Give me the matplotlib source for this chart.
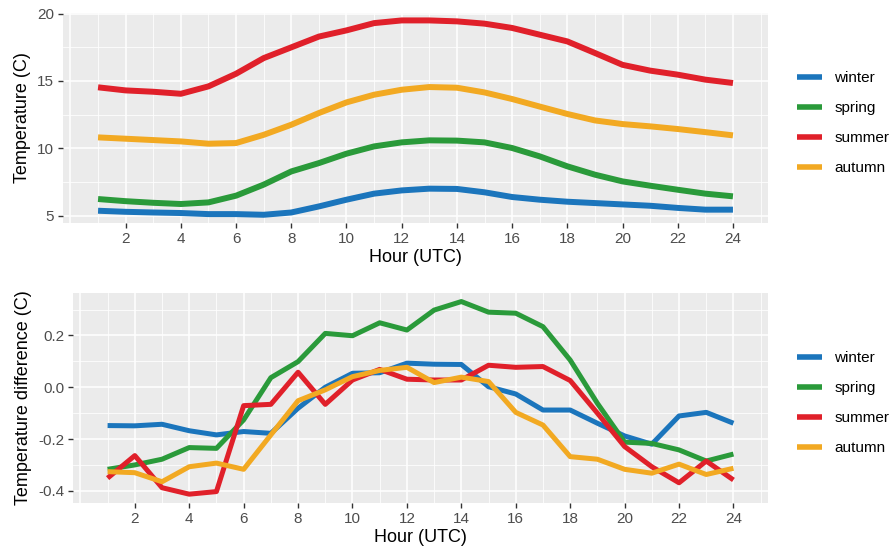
import matplotlib
matplotlib.use("Agg")
import matplotlib.pyplot as plt

plt.rcParams["font.family"] = ["Liberation Sans", "DejaVu Sans"]

hours = list(range(1, 25))
seasons = ["winter", "spring", "summer", "autumn"]
colors = ["#1b75bc", "#2a9a3a", "#e0202a", "#f2a922"]

# mean temperature per hour (C)
temp_winter = [5.36, 5.28, 5.23, 5.19, 5.11, 5.11, 5.06, 5.23, 5.68, 6.18, 6.63, 6.87,
               7.0, 6.98, 6.73, 6.38, 6.18, 6.03, 5.93, 5.83, 5.73, 5.57, 5.44, 5.44]
temp_spring = [6.23, 6.07, 5.95, 5.86, 5.98, 6.48, 7.3, 8.28, 8.9, 9.6, 10.14, 10.44,
               10.59, 10.57, 10.44, 10.02, 9.4, 8.66, 8.04, 7.54, 7.22, 6.92, 6.63, 6.43]
temp_summer = [14.53, 14.3, 14.2, 14.05, 14.6, 15.54, 16.7, 17.5, 18.3, 18.76, 19.3, 19.5,
               19.5, 19.43, 19.26, 18.94, 18.44, 17.94, 17.08, 16.2, 15.77, 15.47, 15.1, 14.85]
temp_autumn = [10.81, 10.71, 10.61, 10.51, 10.34, 10.39, 11.0, 11.75, 12.62, 13.41, 13.98, 14.35,
               14.55, 14.5, 14.15, 13.66, 13.1, 12.55, 12.07, 11.8, 11.63, 11.43, 11.2, 10.96]

# temperature difference per hour (C)
diff_winter = [-0.148, -0.149, -0.143, -0.168, -0.184, -0.171, -0.178, -0.081, 0.0, 0.054, 0.056, 0.093,
               0.089, 0.088, 0.002, -0.026, -0.088, -0.088, -0.139, -0.188, -0.22, -0.111, -0.097, -0.139]
diff_spring = [-0.317, -0.3, -0.278, -0.233, -0.236, -0.126, 0.037, 0.099, 0.208, 0.199, 0.249, 0.221,
               0.298, 0.331, 0.29, 0.286, 0.234, 0.105, -0.062, -0.212, -0.217, -0.242, -0.285, -0.258]
diff_summer = [-0.351, -0.264, -0.388, -0.413, -0.403, -0.071, -0.066, 0.058, -0.066, 0.028, 0.069, 0.031,
               0.028, 0.028, 0.085, 0.077, 0.08, 0.026, -0.1, -0.229, -0.307, -0.369, -0.285, -0.358]
diff_autumn = [-0.326, -0.33, -0.365, -0.307, -0.293, -0.317, -0.184, -0.052, -0.01, 0.041, 0.065, 0.077,
               0.018, 0.039, 0.022, -0.097, -0.146, -0.268, -0.278, -0.317, -0.332, -0.297, -0.337, -0.313]

temps = [temp_winter, temp_spring, temp_summer, temp_autumn]
diffs = [diff_winter, diff_spring, diff_summer, diff_autumn]


def style_panel(ax, yticks, yminor, ylim, ylabel, ylabels):
    ax.set_facecolor("#ebebeb")
    for s in ax.spines.values():
        s.set_visible(False)
    ax.set_xlim(-0.27, 25.27)
    ax.set_ylim(*ylim)
    ax.set_xticks(range(0, 25, 2))
    ax.set_xticklabels([""] + [str(h) for h in range(2, 25, 2)])
    ax.xaxis.get_major_ticks()[0].tick1line.set_visible(False)
    ax.set_xticks(range(1, 26, 2), minor=True)
    ax.set_yticks(yticks)
    ax.set_yticklabels(ylabels)
    ax.set_yticks(yminor, minor=True)
    ax.grid(which="major", color="white", linewidth=1.1)
    ax.grid(which="minor", color="white", linewidth=0.55)
    ax.set_axisbelow(True)
    ax.tick_params(which="major", length=3.5, width=1.0, color="#333333",
                   labelsize=11, labelcolor="#4d4d4d", pad=3)
    ax.tick_params(which="minor", length=0)
    ax.set_xlabel("Hour (UTC)", fontsize=13, labelpad=2)
    ax.set_ylabel(ylabel, fontsize=13, labelpad=4)


fig = plt.figure(figsize=(8.95, 5.54), dpi=100)
ax1 = fig.add_axes([0.0704, 0.5975, 0.7877, 0.379])
ax2 = fig.add_axes([0.0816, 0.0921, 0.7765, 0.379])

for name, col, vals in zip(seasons, colors, temps):
    ax1.plot(hours, vals, color=col, linewidth=4.3, label=name, solid_capstyle="butt")
for name, col, vals in zip(seasons, colors, diffs):
    ax2.plot(hours, vals, color=col, linewidth=3.6, label=name, solid_capstyle="butt")

style_panel(ax1, [5, 10, 15, 20], [7.5, 12.5, 17.5], (4.45, 20.05),
            "Temperature (C)", ["5", "10", "15", "20"])
style_panel(ax2, [-0.4, -0.2, 0.0, 0.2], [-0.3, -0.1, 0.1, 0.3], (-0.447, 0.364),
            "Temperature difference (C)", ["-0.4", "-0.2", "0.0", "0.2"])

for ax, yc in ((ax1, 1 - 123 / 554), (ax2, 1 - 403 / 554)):
    leg = ax.legend(loc="center left", bbox_to_anchor=(797 / 895, yc),
                    bbox_transform=fig.transFigure, frameon=False, fontsize=11,
                    borderpad=0, borderaxespad=0,
                    handlelength=1.65, handletextpad=0.8, labelspacing=1.05)
    for line in leg.get_lines():
        line.set_linewidth(4)

fig.savefig("out.png", dpi=100)
